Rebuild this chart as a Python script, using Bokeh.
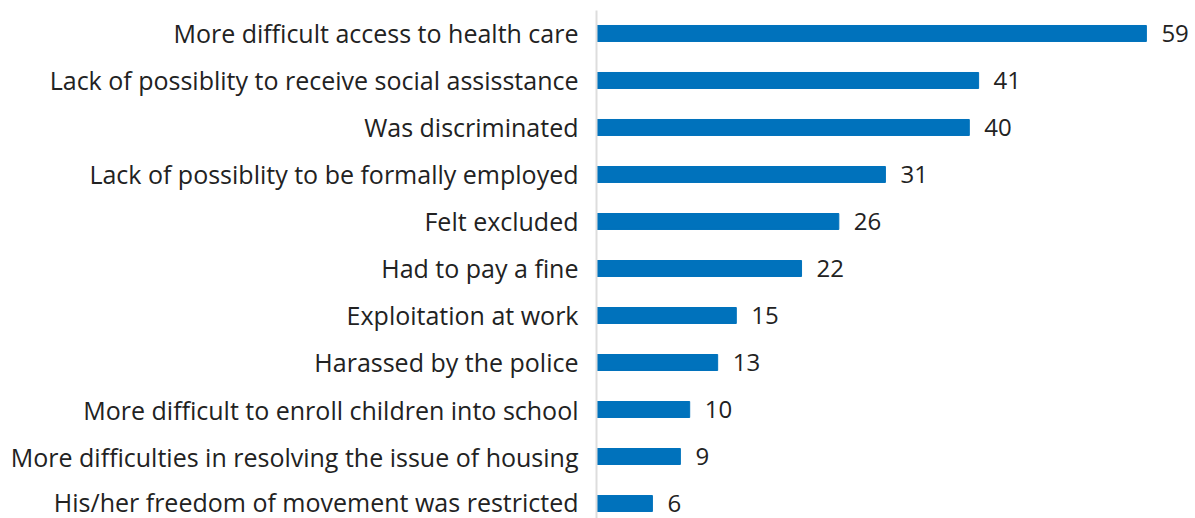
from bokeh.plotting import figure
from bokeh.models import Range1d, FixedTicker, ColumnDataSource
from bokeh.embed import file_html
from bokeh.resources import INLINE
from bokeh.core.properties import value

categories = [
    "More difficult access to health care",
    "Lack of possiblity to receive social assisstance",
    "Was discriminated",
    "Lack of possiblity to be formally employed",
    "Felt excluded",
    "Had to pay a fine",
    "Exploitation at work",
    "Harassed by the police",
    "More difficult to enroll children into school",
    "More difficulties in resolving the issue of housing",
    "His/her freedom of movement was restricted",
]
values = [59, 41, 40, 31, 26, 22, 15, 13, 10, 9, 6]

FONT = "Open Sans"
idx = list(range(len(categories)))
src = ColumnDataSource(dict(y=idx, v=values, lab=[str(v) for v in values]))

p = figure(width=1195, height=518, output_backend="svg", toolbar_location=None,
           x_range=Range1d(0, 64.27), y_range=Range1d(10.319, -0.489),
           min_border_left=596, min_border_right=0, min_border_top=10, min_border_bottom=0)
p.hbar(y="y", right="v", left=0, height=0.34, color="#0072bc", source=src)
p.text(x="v", y="y", text="lab", source=src, x_offset=15, text_align="left",
       text_baseline="middle", text_font=value(FONT), text_font_size="24px", text_color="#222222")

p.xaxis.visible = False
p.grid.visible = False
p.outline_line_color = None
ax = p.yaxis[0]
ax.ticker = FixedTicker(ticks=idx)
ax.major_label_overrides = {i: c for i, c in enumerate(categories)}
ax.major_tick_line_color = None
ax.minor_tick_line_color = None
ax.axis_line_color = "#dddddd"
ax.axis_line_width = 2
ax.major_label_standoff = 12
ax.major_label_text_font = FONT
ax.major_label_text_font_size = "25px"
ax.major_label_text_color = "#222222"

open("out.html", "w").write(file_html(p, INLINE))
